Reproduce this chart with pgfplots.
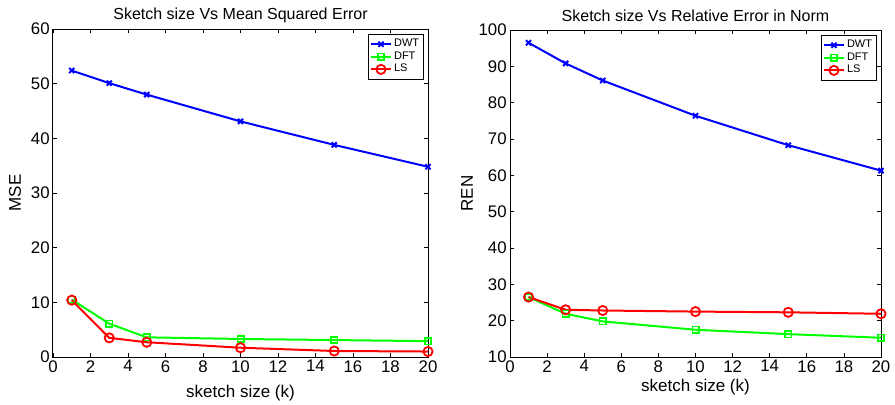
\documentclass[border=0pt]{standalone}
\usepackage{fontspec}
\setmainfont{Liberation Sans}
\usepackage{pgfplots}
\pgfplotsset{compat=1.18}

\pgfplotsset{
  sketchax/.style={
    scale only axis,
    width=187.5pt, height=164pt,
    xmin=0, xmax=20,
    xtick={0,2,...,20},
    tick align=inside,
    major tick length=2pt,
    axis line style={line width=0.5pt},
    tick style={line width=0.4pt, black},
    /pgf/number format/assume math mode=true,
    tick label style={font=\fontsize{8.4}{9}\selectfont},
    label style={font=\fontsize{8.5}{9}\selectfont},
    every axis title shift=0pt,
    title style={font=\fontsize{8}{9}\selectfont, at={(axis description cs:0.5,1)}, anchor=center, yshift=7pt},
    xticklabel style={inner sep=1.5pt},
    yticklabel style={inner sep=1.5pt},
    legend style={at={(axis description cs:1,1)}, anchor=north east,
      xshift=-2pt, yshift=-2.5pt, draw=black, line width=0.5pt,
      font=\fontsize{5.5}{6}\selectfont, inner sep=1pt,
      row sep=-1.4pt, nodes={inner sep=1.2pt}},
    legend cell align=left,
    legend image code/.code={
      \draw[mark repeat=2, mark phase=2, #1]
        plot coordinates {(0cm,0cm) (0.17cm,0cm) (0.34cm,0cm)};},
    every axis plot/.append style={line width=1pt},
  },
  dwt/.style={color={rgb,255:red,0;green,0;blue,255}, mark=x, mark size=1.8pt, mark options={line width=1pt}},
  dft/.style={color={rgb,255:red,0;green,255;blue,0}, mark=square, mark size=1.6pt, mark options={line width=0.8pt}},
  ls/.style={color={rgb,255:red,255;green,0;blue,0}, mark=o, mark size=2.3pt, mark options={line width=0.9pt}},
}

\begin{document}
\begin{tikzpicture}
\useasboundingbox (0,0) rectangle (447.5pt,202pt);

\begin{axis}[sketchax,
  at={(26.5pt,23.5pt)}, anchor=south west,
  ymin=0, ymax=60, ytick={0,10,...,60},
  title={Sketch size Vs Mean Squared Error},
  xlabel={sketch size (k)}, ylabel={MSE},
  xlabel style={at={(axis description cs:0.5,0)}, anchor=center, yshift=-18pt},
  ylabel style={at={(axis description cs:0,0.5)}, anchor=center, yshift=19pt},
]
\addplot[dwt] coordinates {(1,52.4) (3,50.1) (5,48.0) (10,43.1) (15,38.8) (20,34.8)};
\addplot[dft] coordinates {(1,10.5) (3,6.1) (5,3.6) (10,3.3) (15,3.1) (20,2.9)};
\addplot[ls] coordinates {(1,10.4) (3,3.5) (5,2.7) (10,1.7) (15,1.1) (20,1.0)};
\legend{DWT,DFT,LS}
\end{axis}

\begin{axis}[sketchax,
  at={(255pt,23.5pt)}, anchor=south west,
  width=185.5pt, height=163.5pt,
  ymin=10, ymax=100, ytick={10,20,...,100},
  title={Sketch size Vs Relative Error in Norm},
  xlabel={sketch size (k)}, ylabel={REN},
  xlabel style={at={(axis description cs:0.5,0)}, anchor=center, yshift=-15pt},
  ylabel style={at={(axis description cs:0,0.5)}, anchor=center, yshift=21.5pt},
]
\addplot[dwt] coordinates {(1,96.5) (3,90.8) (5,86.1) (10,76.4) (15,68.3) (20,61.3)};
\addplot[dft] coordinates {(1,26.5) (3,21.9) (5,19.8) (10,17.5) (15,16.3) (20,15.3)};
\addplot[ls] coordinates {(1,26.5) (3,23.0) (5,22.8) (10,22.5) (15,22.3) (20,21.9)};
\legend{DWT,DFT,LS}
\end{axis}
\end{tikzpicture}
\end{document}
